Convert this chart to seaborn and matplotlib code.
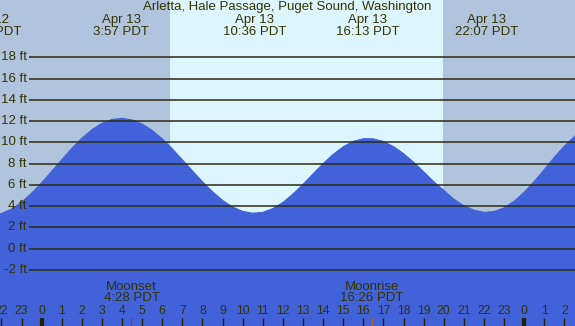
import matplotlib
matplotlib.use("Agg")
import matplotlib.pyplot as plt
import matplotlib.transforms as mtransforms
import seaborn as sns
import pandas as pd

# ---- data ----
hours = [-3, -2.5, -2, -1.5, -1, -0.5, 0, 0.5, 1, 1.5, 2, 2.5, 3, 3.5, 4, 4.5,
         5, 5.5, 6, 6.5, 7, 7.5, 8, 8.5, 9, 9.5, 10, 10.5, 11, 11.5, 12, 12.5,
         13, 13.5, 14, 14.5, 15, 15.5, 16, 16.5, 17, 17.5, 18, 18.5, 19, 19.5,
         20, 20.5, 21, 21.5, 22, 22.5, 23, 23.5, 24, 24.5, 25, 25.5, 26, 26.5, 27]
heights = [3.2, 3.15, 3.31, 3.72, 4.37, 5.22, 6.2, 7.27, 8.37, 9.43, 10.39, 11.2,
           11.8, 12.16, 12.27, 12.12, 11.73, 11.13, 10.34, 9.4, 8.37, 7.33, 6.3,
           5.36, 4.55, 3.92, 3.51, 3.34, 3.42, 3.77, 4.35, 5.14, 6.05, 7.03, 8.0,
           8.87, 9.59, 10.1, 10.35, 10.34, 10.09, 9.61, 8.95, 8.14, 7.24, 6.32,
           5.5, 4.67, 4.04, 3.63, 3.43, 3.49, 3.84, 4.46, 5.3, 6.32, 7.44, 8.6,
           9.65, 10.55, 11.4]

extreme_hours = [-2.57, 3.95, 10.6, 16.22, 22.12]
extreme_labels = ["Apr 12\n21:26 PDT", "Apr 13\n3:57 PDT", "Apr 13\n10:36 PDT",
                  "Apr 13\n16:13 PDT", "Apr 13\n22:07 PDT"]
sunrise, sunset = 6.38, 19.97
moon_hours = [4.47, 16.43]
moon_labels = ["Moonset\n4:28 PDT", "Moonrise\n16:26 PDT"]
moon_tick_colors = ["#555544", "#b06030"]
grid_levels = [-2, 0, 2, 4, 6, 8, 10, 12, 14, 16, 18]
hour_ticks = list(range(-2, 27))
hour_labels = [str(h % 24) for h in hour_ticks]
title = "Arletta, Hale Passage, Puget Sound, Washington"

df = pd.DataFrame({"hour": hours, "height": heights})

sns.set_style("white")
plt.rcParams["font.family"] = ["Liberation Sans", "DejaVu Sans"]

NIGHT = "#b0c4de"
DAY = "#ddf6fe"
WATER = "#4162d8"
INK = "#333300"
GRID = "#2b2b10"
FS = 9.5

fig = plt.figure(figsize=(5.75, 3.26), dpi=100)
ax = fig.add_axes([0, 0, 1, 1])
X0, X1 = -2.07, 26.53
Y0, Y1 = -7.27, 23.4
ax.set_xlim(X0, X1)
ax.set_ylim(Y0, Y1)
ax.set_facecolor(NIGHT)
ax.axvspan(sunrise, sunset, color=DAY, zorder=0, lw=0)

ax.fill_between(df["hour"], Y0 - 5, df["height"], color=WATER, lw=0, zorder=1)
sns.lineplot(data=df, x="hour", y="height", ax=ax, color=WATER, lw=0.8, zorder=2)

for lv in grid_levels:
    ax.hlines(lv, -0.63, X1 + 1, color=GRID, lw=1.1, zorder=3)
    ax.text(-0.73, lv, f"{lv} ft", ha="right", va="center", fontsize=FS,
            color=INK, zorder=4)

trans = mtransforms.blended_transform_factory(ax.transData, ax.transAxes)
for h, lab in zip(extreme_hours, extreme_labels):
    ax.text(h, 1 - 14.5 / 326, lab, transform=trans, ha="center", va="top",
            fontsize=FS, color=INK, linespacing=0.92, zorder=5)

ax.text(0.5, 1 - 1 / 326, title, transform=ax.transAxes, ha="center", va="top",
        fontsize=FS, color=INK, zorder=5)

for h, lab in zip(moon_hours, moon_labels):
    ax.text(h, 1 - 281 / 326, lab, transform=trans, ha="center", va="top",
            fontsize=FS, color=INK, linespacing=0.92, zorder=5)

for h, c in zip(moon_hours, moon_tick_colors):
    ax.plot([h, h], [0, 8 / 326], transform=trans, color=c, lw=0.8, zorder=5)

for h, lab in zip(hour_ticks, hour_labels):
    ax.text(h, 15 / 326, lab, transform=trans, ha="center", va="center",
            fontsize=8.8, color=INK, zorder=5)
    lw = 3 if h % 24 == 0 else 1
    ax.plot([h, h], [0, 8 / 326], transform=trans, color="#222200", lw=lw,
            zorder=5, solid_capstyle="butt")

ax.set_xlabel("")
ax.set_ylabel("")
ax.set_xticks([])
ax.set_yticks([])
for s in ax.spines.values():
    s.set_visible(False)

fig.savefig("out.png", dpi=100)
